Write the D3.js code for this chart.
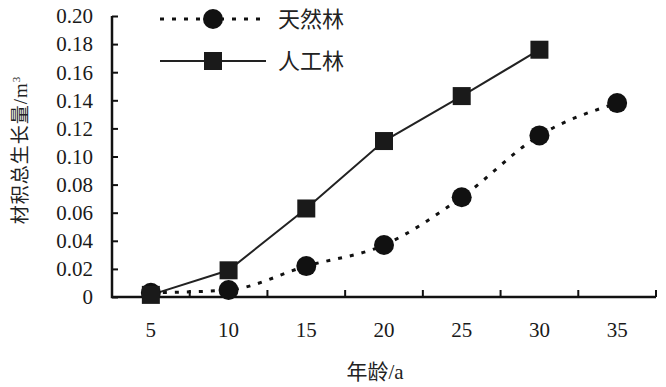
<!DOCTYPE html>
<html><head><meta charset="utf-8">
<script src="https://cdn.jsdelivr.net/npm/d3@7"></script>
<style>body{margin:0;background:#fff;} svg{display:block;}</style>
</head><body>
<svg id="c" width="666" height="387"></svg>
<script>
const ages = [5, 10, 15, 20, 25, 30, 35];
const natural = [0.003, 0.005, 0.022, 0.037, 0.071, 0.115, 0.138];
const planted = [0.0015, 0.019, 0.063, 0.111, 0.143, 0.176];
const yTicks = [0, 0.02, 0.04, 0.06, 0.08, 0.10, 0.12, 0.14, 0.16, 0.18, 0.20];
const seriesNames = ["天然林", "人工林"];
const xTitle = "年龄/a";
const yTitle = "材积总生长量/m";

const svg = d3.select("#c");
const font = "'Liberation Serif','Noto Sans CJK SC',serif";
const pL = 112, pR = 656, pT = 16, pB = 297;

const x = d3.scaleBand().domain(ages).range([pL, pR]);
const y = d3.scaleLinear().domain([0, 0.2]).range([pB, pT]);

// axes
const ya = svg.append("g").attr("transform", `translate(${pL},0)`)
  .call(d3.axisRight(y).tickValues(yTicks).tickSize(6).tickFormat(() => ""));
ya.select(".domain").remove();
ya.selectAll("line").attr("stroke", "#111").attr("stroke-width", 2);
svg.append("g").selectAll("line").data(ages).join("line")
  .attr("x1", d => x(d) + x.bandwidth()).attr("x2", d => x(d) + x.bandwidth())
  .attr("y1", pB).attr("y2", pB - 7).attr("stroke", "#111").attr("stroke-width", 2);
svg.append("path").attr("d", `M${pL},${pT}V${pB}H${pR}`)
  .attr("fill", "none").attr("stroke", "#111").attr("stroke-width", 2.5);

// tick labels
svg.append("g").selectAll("text").data(yTicks).join("text")
  .attr("x", 93).attr("y", d => y(d)).attr("dy", "0.35em")
  .attr("text-anchor", "end").attr("font-family", font).attr("font-size", 21).attr("fill", "#1a1a1a")
  .text(d => d === 0 ? "0" : d.toFixed(2));
svg.append("g").selectAll("text").data(ages).join("text")
  .attr("x", d => x(d) + x.bandwidth() / 2).attr("y", 330).attr("dy", "0.35em")
  .attr("text-anchor", "middle").attr("font-family", font).attr("font-size", 21).attr("fill", "#1a1a1a")
  .text(d => d);

// titles
svg.append("text").attr("x", 375).attr("y", 372).attr("dy", "0.35em").attr("text-anchor", "middle")
  .attr("font-family", font).attr("font-size", 21).attr("fill", "#222").text(xTitle);
const yt = svg.append("text").attr("transform", "translate(20,150) rotate(-90)")
  .attr("text-anchor", "middle").attr("dy", "0.35em")
  .attr("font-family", font).attr("font-size", 19).attr("letter-spacing", 1).attr("fill", "#222");
yt.append("tspan").text(yTitle);
yt.append("tspan").attr("font-size", 11).attr("dy", "-0.6em").text("3");

const cx = d => x(d) + x.bandwidth() / 2;
// lines
const lineN = d3.line().x((d, i) => cx(ages[i])).y(d => y(d)).curve(d3.curveMonotoneX);
const lineP = d3.line().x((d, i) => cx(ages[i])).y(d => y(d));
svg.append("path").datum(natural).attr("d", lineN).attr("fill", "none")
  .attr("stroke", "#111").attr("stroke-width", 3).attr("stroke-dasharray", "4,8");
svg.append("path").datum(planted).attr("d", lineP).attr("fill", "none")
  .attr("stroke", "#222").attr("stroke-width", 2);

// markers
svg.append("g").selectAll("circle").data(natural).join("circle")
  .attr("cx", (d, i) => cx(ages[i])).attr("cy", d => y(d)).attr("r", 10).attr("fill", "#111");
svg.append("g").selectAll("rect").data(planted).join("rect")
  .attr("x", (d, i) => cx(ages[i]) - 9).attr("y", d => y(d) - 9)
  .attr("width", 18).attr("height", 18).attr("fill", "#1a1a1a");

// legend
const lg = svg.append("g");
lg.append("line").attr("x1", 160).attr("x2", 264).attr("y1", 19).attr("y2", 19)
  .attr("stroke", "#111").attr("stroke-width", 3).attr("stroke-dasharray", "4,8");
lg.append("circle").attr("cx", 213).attr("cy", 19).attr("r", 10).attr("fill", "#111");
lg.append("line").attr("x1", 160).attr("x2", 266).attr("y1", 61).attr("y2", 61)
  .attr("stroke", "#222").attr("stroke-width", 2);
lg.append("rect").attr("x", 204).attr("y", 52).attr("width", 18).attr("height", 18).attr("fill", "#1a1a1a");
lg.selectAll("text.l").data(seriesNames).join("text")
  .attr("x", 278).attr("y", (d, i) => i === 0 ? 19 : 61).attr("dy", "0.35em")
  .attr("font-family", font).attr("font-size", 22).attr("fill", "#222").text(d => d);
</script>
</body></html>
